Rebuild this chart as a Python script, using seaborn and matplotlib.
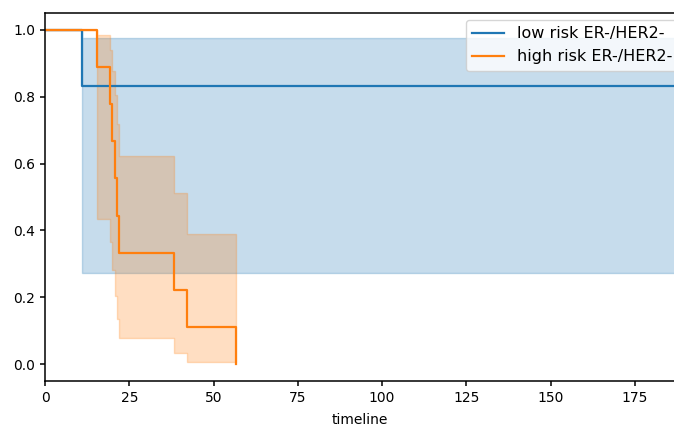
import matplotlib
matplotlib.use("Agg")
import matplotlib.pyplot as plt
import seaborn as sns
import pandas as pd
from matplotlib.lines import Line2D

# ---- data ----
low_label = "low risk ER-/HER2-"
high_label = "high risk ER-/HER2-"

low_time = [0.0, 10.9, 200.0]
low_surv = [1.0, 0.833, 0.833]
low_ci_lower = [1.0, 0.274, 0.274]
low_ci_upper = [1.0, 0.975, 0.975]

high_time = [0.0, 15.5, 19.2, 19.8, 20.9, 21.3, 21.9, 38.2, 42.1, 56.7]
high_surv = [1.0, 0.889, 0.778, 0.667, 0.556, 0.444, 0.333, 0.222, 0.111, 0.0]
high_ci_lower = [1.0, 0.433, 0.365, 0.282, 0.204, 0.136, 0.078, 0.034, 0.006, 0.006]
high_ci_upper = [1.0, 0.984, 0.939, 0.878, 0.805, 0.719, 0.623, 0.513, 0.388, 0.388]

x_ticks = [0, 25, 50, 75, 100, 125, 150, 175]
y_ticks = [0.0, 0.2, 0.4, 0.6, 0.8, 1.0]

plt.rcParams["font.family"] = ["DejaVu Sans"]

df = pd.concat([
    pd.DataFrame({"timeline": low_time, "survival": low_surv, "group": low_label}),
    pd.DataFrame({"timeline": high_time, "survival": high_surv, "group": high_label}),
], ignore_index=True)

fig = plt.figure(figsize=(6.74, 4.26), dpi=100)
ax = fig.add_axes([45 / 674, 45 / 426, 629 / 674, 368 / 426])

colors = {low_label: "#1f77b4", high_label: "#ff7f0e"}

ax.fill_between(low_time, low_ci_lower, low_ci_upper, step="post",
                color=colors[low_label], alpha=0.25, linewidth=1.0)
ax.fill_between(high_time, high_ci_lower, high_ci_upper, step="post",
                color=colors[high_label], alpha=0.25, linewidth=1.0)

sns.lineplot(data=df, x="timeline", y="survival", hue="group", palette=colors,
             estimator=None, sort=False, drawstyle="steps-post", linewidth=1.6,
             ax=ax, legend=False)

ax.set_xlim(0, 186.6)
ax.set_ylim(-0.05, 1.05)
ax.set_xticks(x_ticks)
ax.set_yticks(y_ticks)
ax.set_xlabel("timeline", fontsize=10, labelpad=6)
ax.set_ylabel("")
ax.spines["right"].set_visible(False)
for s in ("left", "bottom", "top"):
    ax.spines[s].set_linewidth(1.1)
ax.tick_params(labelsize=10, width=1.1)

handles = [Line2D([], [], color=colors[low_label], lw=1.6),
           Line2D([], [], color=colors[high_label], lw=1.6)]
fig.legend(handles, [low_label, high_label], loc="upper left",
           bbox_to_anchor=(466 / 674, 1 - 20 / 426), fontsize=11.5,
           borderaxespad=0.0)

fig.savefig("out.png", dpi=100)
